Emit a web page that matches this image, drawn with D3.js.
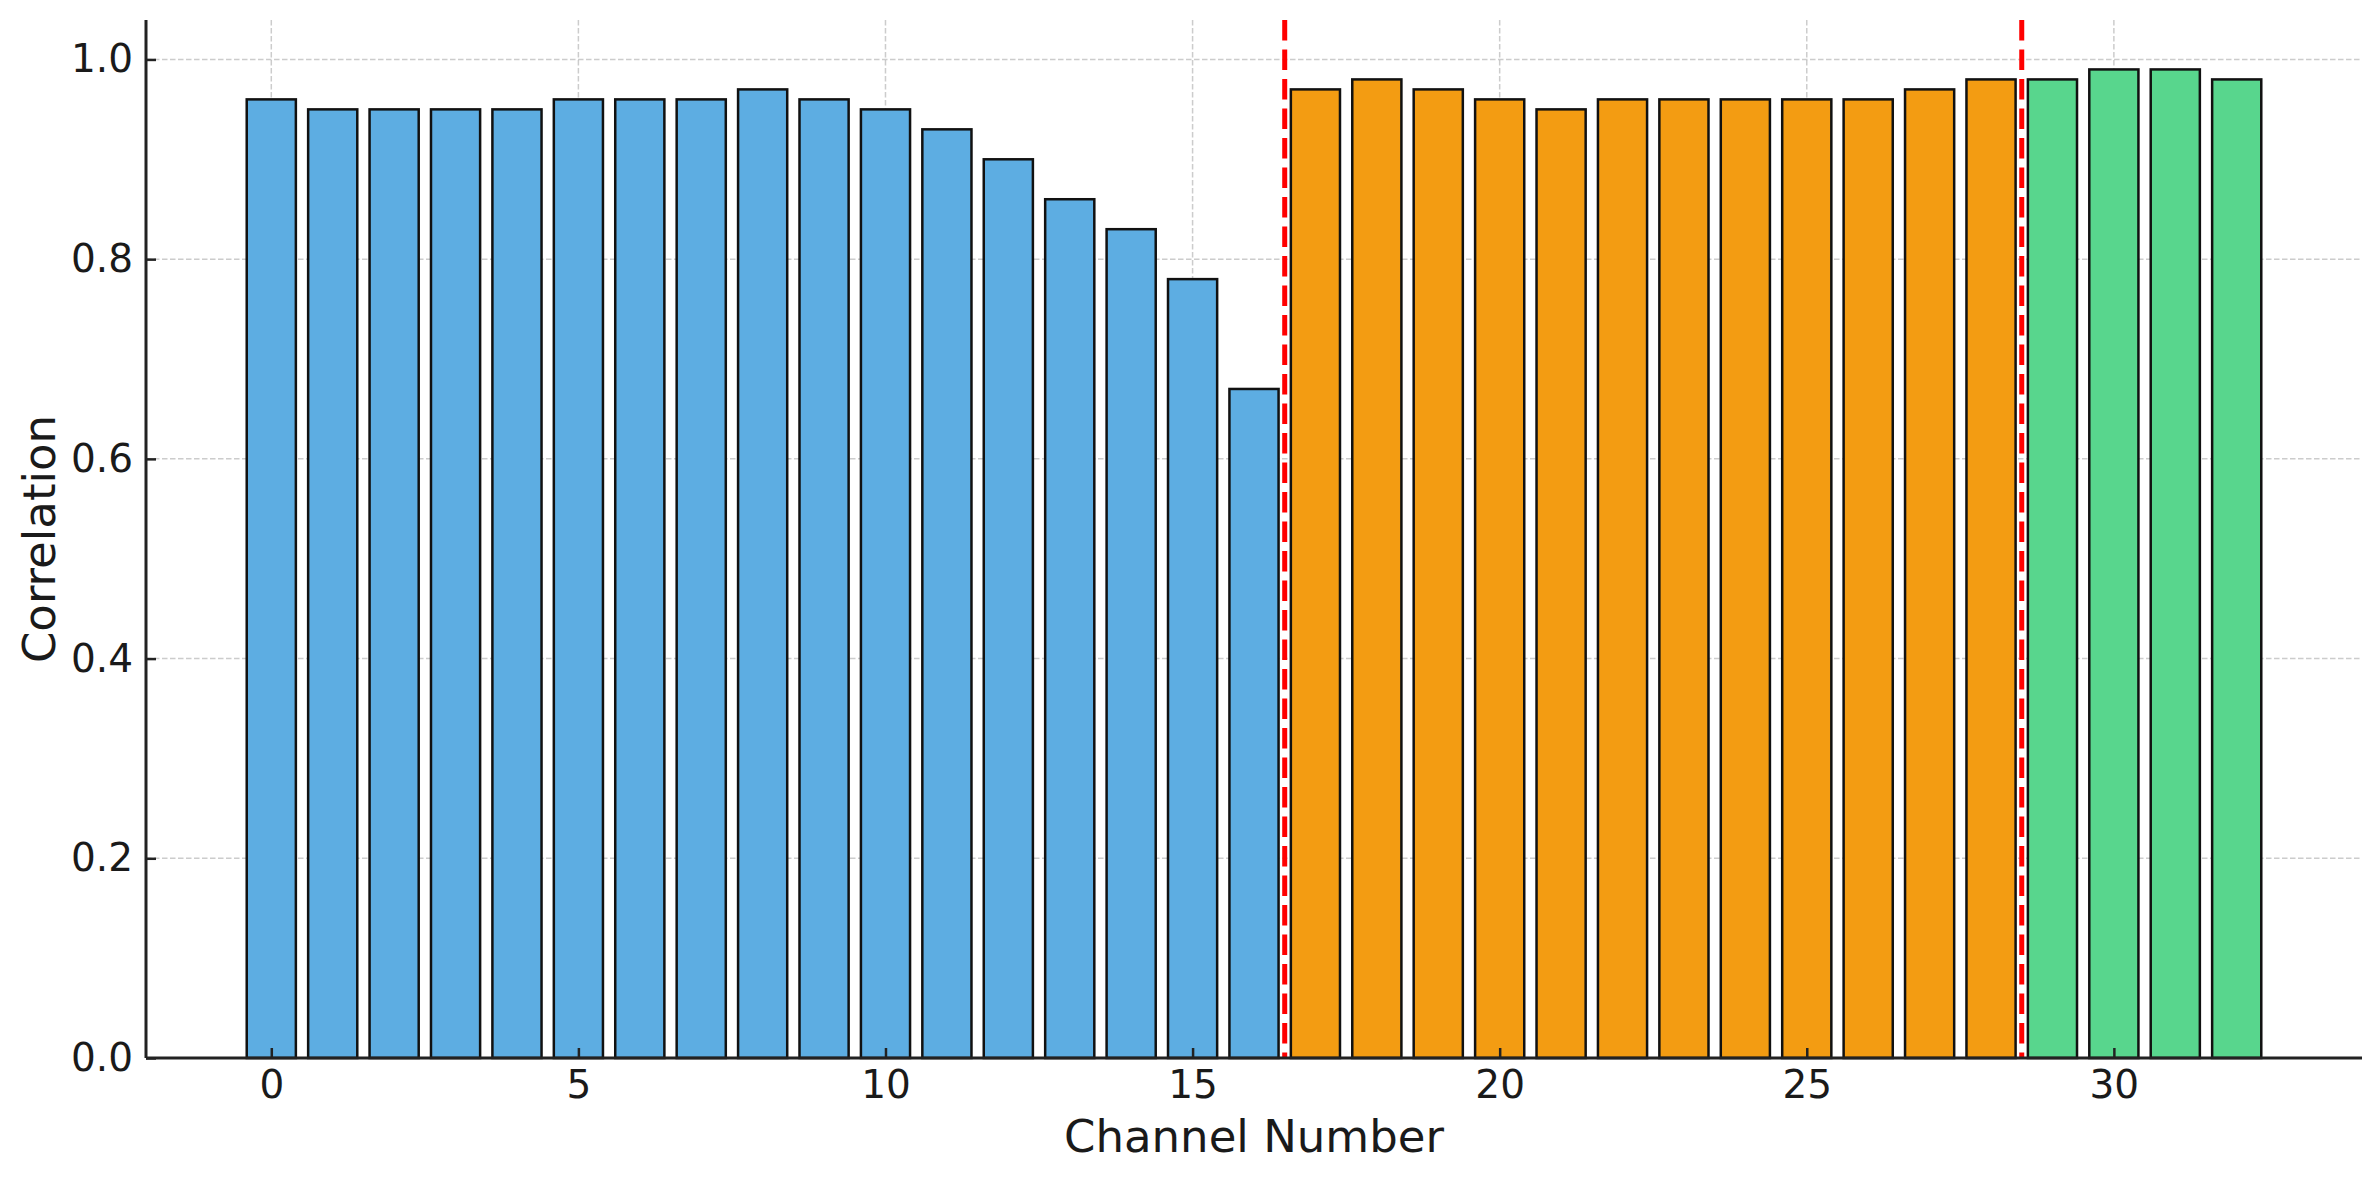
<!DOCTYPE html>
<html><head><meta charset="utf-8">
<script src="https://cdn.jsdelivr.net/npm/d3@7"></script>
<style>body{margin:0;background:#fff}svg{display:block}text{font-family:"DejaVu Sans",sans-serif;fill:#1a1a1a}</style>
</head><body>
<script>
const channels = d3.range(33);
const blueValues = [0.96,0.95,0.95,0.95,0.95,0.96,0.96,0.96,0.97,0.96,0.95,0.93,0.90,0.86,0.83,0.78,0.67];
const orangeValues = [0.97,0.98,0.97,0.96,0.95,0.96,0.96,0.96,0.96,0.96,0.97,0.98];
const greenValues = [0.98,0.99,0.99,0.98];
const boundaries = [16.5, 28.5];
const xTicks = [0,5,10,15,20,25,30];
const yTicks = [0,0.2,0.4,0.6,0.8,1.0];
const groupColors = ["#5DADE2","#F39C12","#58D68D"];

const values = [...blueValues, ...orangeValues, ...greenValues];
const groups = [...blueValues.map(()=>0), ...orangeValues.map(()=>1), ...greenValues.map(()=>2)];
const data = channels.map((c,i)=>({c, v:values[i], g:groups[i]}));

const W=2379,H=1180;
const L=146,R=2362,T=20,B=1058;
const svg=d3.select("body").append("svg").attr("width",W).attr("height",H);
const x=d3.scaleLinear().domain([-2.04,34.04]).range([L,R]);
const y=d3.scaleLinear().domain([0,0.99*1.05]).range([B,T]);

// grid
const grid=svg.append("g");
grid.selectAll(".gx").data(xTicks).join("line")
  .attr("x1",d=>x(d)).attr("x2",d=>x(d)).attr("y1",T).attr("y2",B)
  .attr("stroke","#b0b0b0").attr("stroke-opacity",0.65).attr("stroke-width",1.5).attr("stroke-dasharray","5.5,2.5");
grid.selectAll(".gy").data(yTicks).join("line")
  .attr("x1",L).attr("x2",R).attr("y1",d=>y(d)).attr("y2",d=>y(d))
  .attr("stroke","#b0b0b0").attr("stroke-opacity",0.65).attr("stroke-width",1.5).attr("stroke-dasharray","5.5,2.5");

// bars
const bw=x(0.8)-x(0);
svg.append("g").selectAll("rect").data(data).join("rect")
  .attr("x",d=>x(d.c-0.4)).attr("width",bw)
  .attr("y",d=>y(d.v)).attr("height",d=>y(0)-y(d.v))
  .attr("fill",d=>groupColors[d.g]).attr("stroke","#111").attr("stroke-width",2.5);

// boundaries
svg.append("g").selectAll("line").data(boundaries).join("line")
  .attr("x1",d=>x(d)).attr("x2",d=>x(d)).attr("y1",T).attr("y2",B)
  .attr("stroke","#ff0000").attr("stroke-width",5).attr("stroke-dasharray","20.5,9");

// axes
const xAxis=d3.axisBottom(x).tickValues(xTicks).tickFormat(d3.format("d")).tickSizeInner(-10).tickSizeOuter(0).tickPadding(12);
const gx=svg.append("g").attr("transform",`translate(0,${B})`).call(xAxis);
const yAxis=d3.axisLeft(y).tickValues(yTicks).tickFormat(d3.format(".1f")).tickSizeInner(-10).tickSizeOuter(0).tickPadding(13);
const gy=svg.append("g").attr("transform",`translate(${L},0)`).call(yAxis);
[gx,gy].forEach(g=>{
  g.select(".domain").attr("stroke","#222").attr("stroke-width",3);
  g.selectAll(".tick line").attr("stroke","#222").attr("stroke-width",2.5);
  g.selectAll(".tick text").attr("font-size",39).attr("fill","#1a1a1a").style("font-family","DejaVu Sans");
});
gx.select(".domain").attr("d",`M${L},0H${R}`);
gy.select(".domain").attr("d",`M0,${T}V${B}`);

svg.append("text").attr("x",(L+R)/2).attr("y",1152).attr("text-anchor","middle").attr("font-size",45).text("Channel Number");
svg.append("text").attr("transform",`translate(55,${(T+B)/2}) rotate(-90)`).attr("text-anchor","middle").attr("font-size",45).text("Correlation");
</script>
</body></html>
